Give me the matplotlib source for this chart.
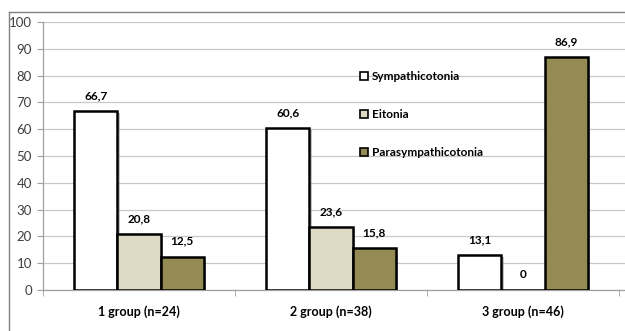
import matplotlib
matplotlib.use("Agg")
import matplotlib.pyplot as plt
import matplotlib.patheffects as pe
from matplotlib.patches import Patch
from matplotlib.lines import Line2D
import numpy as np

plt.rcParams['font.family'] = ['Lato', 'DejaVu Sans']

groups = ["1 group (n=24)", "2 group (n=38)", "3 group (n=46)"]
series_names = ["Sympathicotonia", "Eitonia", "Parasympathicotonia"]
sympathicotonia = [66.7, 60.6, 13.1]
eitonia = [20.8, 23.6, 0.0]
parasympathicotonia = [12.5, 15.8, 86.9]
y_ticks = [0, 10, 20, 30, 40, 50, 60, 70, 80, 90, 100]

series = [sympathicotonia, eitonia, parasympathicotonia]
colors = ["#FFFFFF", "#DDD9C3", "#948A54"]

W, H = 625, 331
fig = plt.figure(figsize=(W / 100, H / 100), dpi=100)
ax = fig.add_axes([43 / W, 41 / H, (625 - 43) / W, 268 / H])

x = np.arange(len(groups))
bw = 0.224
shadow = [pe.SimplePatchShadow(offset=(1.5, -1.5), shadow_rgbFace="#888888", alpha=0.5), pe.Normal()]
for i, (vals, col) in enumerate(zip(series, colors)):
    pos = x + (i - 1) * bw
    bars = ax.bar(pos, vals, width=bw, color=col, edgecolor="black", linewidth=1.8,
                  zorder=3, label=series_names[i])
    for b in bars:
        b.set_path_effects(shadow)
    for p, v in zip(pos, vals):
        txt = f"{v:.1f}".replace(".", ",") if v != 0 else "0"
        ax.annotate(txt, (p, v), xytext=(0, 7), textcoords="offset points",
                    ha="center", va="bottom", fontsize=8.5, fontweight="bold", color="black")

ax.set_xlim(-0.5, 2.5 + 6 / 192)
ax.set_ylim(0, 100)
ax.set_yticks(y_ticks)
ax.set_yticklabels([str(t) for t in y_ticks], fontsize=9.5, color="#404040")
ax.tick_params(axis="y", length=4, color="#A0A0A0", pad=4)
ax.set_xticks(x)
ax.set_xticklabels(groups, fontsize=9, fontweight="bold")
ax.tick_params(axis="x", length=0, pad=11)
ax.set_xticks([-0.5, 0.5, 1.5, 2.5], minor=True)
ax.tick_params(axis="x", which="minor", length=4, color="#A0A0A0")

ax.grid(axis="y", color="#C8C8C8", linewidth=0.9, zorder=0)
ax.set_axisbelow(True)
for s in ["top", "right"]:
    ax.spines[s].set_visible(False)
for s in ["left", "bottom"]:
    ax.spines[s].set_color("#A0A0A0")
    ax.spines[s].set_linewidth(0.9)

handles = [Patch(facecolor=c, edgecolor="black", linewidth=1.2) for c in colors]
leg = fig.legend(handles, series_names, loc="upper left",
                 bbox_to_anchor=(360 / W, 1 - 71 / H), frameon=False,
                 handlelength=0.7, handleheight=0.7, handletextpad=0.3,
                 labelspacing=2.3, borderpad=0, borderaxespad=0,
                 prop={"size": 8.5, "weight": "bold"})

# outer chart frame
fig.add_artist(Line2D([9 / W, 9 / W], [0, 1 - 12 / H], transform=fig.transFigure,
                      color="#808080", linewidth=1.0))
fig.add_artist(Line2D([9 / W, 1], [1 - 12 / H, 1 - 12 / H], transform=fig.transFigure,
                      color="#808080", linewidth=1.0))

fig.savefig("out.png", dpi=100)
